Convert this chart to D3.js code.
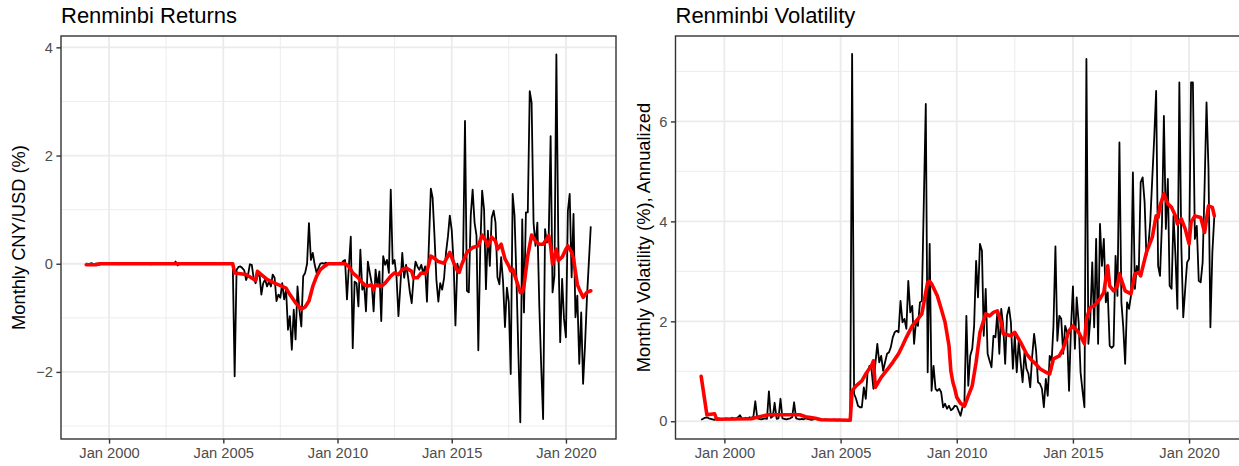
<!DOCTYPE html>
<html>
<head>
<meta charset="utf-8">
<script src="https://cdn.jsdelivr.net/npm/d3@7"></script>
<style>
  body { margin: 0; background: #fff; }
  svg text { font-family: "Liberation Sans", Arial, Helvetica, sans-serif; }
</style>
</head>
<body>
<svg id="chart" width="1239" height="466"></svg>
<script>
// Renminbi: monthly returns and annualized volatility, with red smoothed line

// ---------- data ----------
const firstMonth = "1999-01";

// monthly CNY/USD return (%), Jan 1999 .. Feb 2021
const returns = [
  0.01, -0.01, 0.00, 0.01, -0.01, 0.00, 0.00, -0.02, 0.01, 0.00, 0.00, 0.00, // 1999
  0.00, 0.00, 0.01, 0.00, 0.00, -0.01, 0.00, 0.00, 0.00, 0.01, 0.00, 0.00, // 2000
  0.00, 0.00, 0.00, 0.01, 0.00, 0.00, 0.00, 0.00, 0.00, 0.00, -0.01, 0.00, // 2001
  0.00, 0.00, 0.00, 0.00, 0.00, 0.00, 0.00, 0.00, 0.00, 0.00, 0.00, 0.04, // 2002
  -0.03, 0.00, 0.00, 0.00, 0.00, 0.00, 0.00, 0.00, 0.00, 0.00, 0.00, 0.00, // 2003
  0.00, 0.00, 0.00, 0.00, 0.00, 0.00, 0.00, 0.00, 0.00, 0.00, 0.00, 0.00, // 2004
  0.00, 0.00, 0.00, 0.00, 0.00, 0.00, -2.08, -0.11, -0.06, -0.05, -0.08, -0.12, // 2005
  -0.30, -0.20, -0.01, -0.02, -0.27, -0.36, -0.23, -0.17, -0.57, -0.36, -0.29, -0.42, // 2006
  -0.33, -0.42, -0.20, -0.26, -0.69, -0.57, -0.63, -0.36, -0.66, -0.48, -1.22, -0.97, // 2007
  -1.59, -0.85, -1.40, -0.42, -0.85, -1.16, -0.23, -0.17, 0.00, 0.75, 0.07, 0.20, // 2008
  -0.02, -0.17, -0.08, 0.00, 0.01, 0.00, 0.02, -0.01, 0.00, 0.01, -0.01, 0.00, // 2009
  0.00, 0.02, 0.00, 0.05, 0.07, -0.66, -0.05, 0.50, -1.56, -0.33, -0.36, -0.79, // 2010
  0.26, -0.48, -0.36, -0.88, 0.04, -0.17, -0.36, -0.88, -0.11, -0.42, -0.14, -1.06, // 2011
  0.14, -0.02, 0.07, -0.17, 1.37, 0.00, 0.07, -0.24, -0.97, -0.42, 0.20, -0.26, // 2012
  -0.02, -0.24, -0.51, -0.73, -0.26, 0.04, -0.05, -0.11, -0.02, -0.17, -0.05, -0.70, // 2013
  0.38, 1.39, 1.22, 0.50, -0.30, -0.70, -0.36, -0.48, -0.26, 0.20, 0.50, 0.89, // 2014
  0.62, 0.00, -1.14, 0.00, -0.16, -0.04, 0.08, 2.64, -0.50, -0.53, 0.89, 1.37, // 2015
  0.76, 0.52, -1.60, 0.27, 1.35, 1.00, -0.47, 0.61, -0.04, 0.85, 0.98, 0.76, // 2016
  -0.25, -0.38, 0.12, -0.34, -1.17, -0.44, -0.71, -2.04, 1.29, 0.89, -0.28, -1.64, // 2017
  -2.93, 0.82, -0.90, 0.95, 0.95, 3.19, 2.98, 0.76, 0.33, 0.76, -0.77, -1.88, // 2018
  -2.87, 0.64, 0.39, 0.52, 2.36, -0.53, -0.22, 3.87, 0.39, -1.45, -0.28, -1.02, // 2019
  -1.36, 0.98, 1.29, -0.25, 0.92, -0.99, -0.59, -1.85, -0.90, -2.22, -1.51, -0.65, // 2020
  0.02, 0.69 // 2021
];

// monthly volatility (%), annualized, Jan 1999 .. Feb 2021
const volatility = [
  0.03, 0.05, 0.07, 0.08, 0.06, 0.05, 0.04, 0.03, 0.05, 0.06, 0.05, 0.04, // 1999
  0.05, 0.06, 0.04, 0.05, 0.07, 0.05, 0.06, 0.08, 0.12, 0.06, 0.05, 0.07, // 2000
  0.06, 0.08, 0.07, 0.09, 0.40, 0.06, 0.05, 0.04, 0.05, 0.06, 0.05, 0.60, // 2001
  0.07, 0.10, 0.37, 0.05, 0.06, 0.45, 0.06, 0.05, 0.04, 0.05, 0.06, 0.08, // 2002
  0.38, 0.06, 0.05, 0.04, 0.05, 0.04, 0.06, 0.05, 0.04, 0.03, 0.04, 0.05, // 2003
  0.04, 0.03, 0.04, 0.03, 0.04, 0.03, 0.03, 0.02, 0.03, 0.03, 0.02, 0.03, // 2004
  0.03, 0.02, 0.03, 0.02, 0.02, 0.03, 7.35, 0.55, 0.45, 0.31, 0.28, 0.28, // 2005
  0.68, 0.45, 0.98, 1.11, 1.05, 0.65, 1.15, 1.55, 1.18, 1.31, 1.01, 1.18, // 2006
  1.35, 1.38, 1.48, 1.68, 1.78, 1.81, 1.78, 2.41, 1.98, 2.05, 1.85, 2.81, // 2007
  2.18, 2.31, 1.55, 2.01, 1.91, 2.38, 2.41, 4.38, 6.35, 0.98, 3.55, 0.61, // 2008
  1.11, 0.65, 0.61, 0.65, 0.58, 0.28, 0.35, 0.25, 0.31, 0.22, 0.25, 0.31, // 2009
  0.30, 0.20, 0.11, 0.28, 0.35, 2.11, 0.71, 1.31, 1.45, 1.91, 3.21, 2.48, // 2010
  3.55, 3.41, 1.71, 2.65, 1.35, 1.21, 1.08, 1.71, 1.68, 2.18, 1.35, 2.25, // 2011
  1.91, 1.15, 2.11, 2.28, 1.98, 1.05, 1.71, 0.98, 1.61, 1.18, 0.78, 1.38, // 2012
  1.05, 0.95, 0.68, 1.31, 1.75, 1.41, 0.78, 0.75, 0.65, 0.28, 0.85, 0.51, // 2013
  1.31, 1.21, 1.91, 3.50, 1.61, 2.11, 2.05, 1.35, 1.91, 1.78, 0.61, 1.85, // 2014
  2.70, 1.45, 2.48, 1.98, 0.98, 0.61, 0.28, 7.25, 1.55, 2.05, 3.18, 1.88, // 2015
  3.65, 1.55, 3.95, 3.11, 3.65, 2.38, 2.58, 1.51, 1.47, 1.51, 3.31, 2.51, // 2016
  5.58, 2.38, 1.91, 1.15, 2.38, 2.25, 2.51, 4.98, 2.65, 3.11, 2.98, 4.78, // 2017
  4.88, 4.38, 3.31, 3.51, 4.00, 4.85, 5.65, 6.61, 3.11, 2.91, 3.98, 6.11, // 2018
  3.85, 4.85, 2.71, 2.65, 4.11, 3.31, 2.25, 6.78, 3.51, 2.08, 2.65, 3.18, // 2019
  3.25, 6.78, 6.78, 3.65, 3.91, 2.81, 2.78, 3.18, 4.71, 6.38, 5.05, 1.88, // 2020
  3.38, 4.11 // 2021
];

// red smoothed lines, read at their turning points
const returnsSmooth = [
  ["1999-01", -0.02], ["1999-06", -0.02], ["1999-08", 0.00], ["2005-06", 0.00],
  ["2005-07", -0.17], ["2006-01", -0.20], ["2006-06", -0.31], ["2006-07", -0.14],
  ["2006-09", -0.20], ["2006-12", -0.29], ["2007-04", -0.36], ["2007-08", -0.42],
  ["2007-10", -0.45], ["2007-12", -0.57], ["2008-03", -0.72], ["2008-06", -0.84],
  ["2008-08", -0.80], ["2008-10", -0.69], ["2008-12", -0.42], ["2009-02", -0.23],
  ["2009-04", -0.11], ["2009-06", -0.05], ["2009-08", 0.00], ["2010-05", 0.00],
  ["2010-07", -0.05], ["2010-09", -0.17], ["2010-12", -0.26], ["2011-03", -0.39],
  ["2011-05", -0.41], ["2011-07", -0.39], ["2011-08", -0.48], ["2011-09", -0.39],
  ["2011-12", -0.42], ["2012-02", -0.36], ["2012-05", -0.23], ["2012-07", -0.17],
  ["2012-09", -0.20], ["2012-11", -0.11], ["2013-01", -0.08], ["2013-02", -0.10],
  ["2013-04", -0.14], ["2013-05", -0.26], ["2013-07", -0.26], ["2013-09", -0.17],
  ["2013-11", -0.18], ["2013-12", -0.14], ["2014-02", 0.14], ["2014-04", 0.10],
  ["2014-06", 0.04], ["2014-09", 0.01], ["2014-12", 0.21], ["2015-02", 0.02],
  ["2015-04", -0.13], ["2015-05", -0.16], ["2015-06", -0.04], ["2015-09", 0.21],
  ["2015-10", 0.24], ["2015-12", 0.30], ["2016-03", 0.33], ["2016-05", 0.53],
  ["2016-07", 0.42], ["2016-08", 0.33], ["2016-10", 0.49], ["2016-12", 0.42],
  ["2017-01", 0.27], ["2017-03", 0.36], ["2017-05", 0.09], ["2017-07", -0.04],
  ["2017-08", -0.13], ["2017-09", -0.10], ["2017-11", -0.31], ["2018-01", -0.53],
  ["2018-02", -0.53], ["2018-03", -0.41], ["2018-05", 0.15], ["2018-07", 0.53],
  ["2018-09", 0.42], ["2018-11", 0.36], ["2019-01", 0.36], ["2019-03", 0.46],
  ["2019-04", 0.52], ["2019-05", 0.33], ["2019-06", -0.01], ["2019-08", 0.27],
  ["2019-09", 0.06], ["2019-11", 0.12], ["2020-01", 0.27], ["2020-02", 0.33],
  ["2020-04", 0.21], ["2020-05", 0.09], ["2020-07", -0.38], ["2020-08", -0.47],
  ["2020-10", -0.62], ["2020-12", -0.53], ["2021-02", -0.50]
];

const volatilitySmooth = [
  ["1999-01", 0.90], ["1999-04", 0.13], ["1999-08", 0.15], ["1999-09", 0.04],
  ["2001-03", 0.05], ["2001-07", 0.09], ["2001-12", 0.13], ["2003-04", 0.13],
  ["2003-07", 0.09], ["2003-12", 0.06], ["2004-03", 0.03], ["2005-06", 0.02],
  ["2005-07", 0.61], ["2005-09", 0.71], ["2005-12", 0.81], ["2006-02", 0.95],
  ["2006-05", 1.11], ["2006-06", 1.21], ["2006-07", 0.68], ["2006-10", 0.88],
  ["2007-02", 1.08], ["2007-04", 1.18], ["2007-07", 1.35], ["2007-09", 1.51],
  ["2007-11", 1.68], ["2008-02", 1.91], ["2008-05", 2.05], ["2008-07", 2.15],
  ["2008-09", 2.58], ["2008-10", 2.78], ["2008-11", 2.80], ["2008-12", 2.75],
  ["2009-03", 2.51], ["2009-05", 2.25], ["2009-07", 1.98], ["2009-09", 1.51],
  ["2009-10", 1.00], ["2009-11", 0.78], ["2009-12", 0.65], ["2010-01", 0.48],
  ["2010-03", 0.36], ["2010-05", 0.30], ["2010-07", 0.51], ["2010-09", 0.71],
  ["2010-11", 1.18], ["2011-01", 1.78], ["2011-04", 2.15], ["2011-06", 2.11],
  ["2011-08", 2.18], ["2011-10", 2.21], ["2011-12", 1.98], ["2012-01", 1.75],
  ["2012-05", 1.71], ["2012-07", 1.78], ["2012-10", 1.58], ["2013-01", 1.35],
  ["2013-04", 1.21], ["2013-05", 1.18], ["2013-08", 1.05], ["2013-11", 0.98],
  ["2014-01", 0.95], ["2014-03", 1.25], ["2014-06", 1.31], ["2014-08", 1.45],
  ["2014-11", 1.81], ["2015-01", 1.91], ["2015-04", 1.78], ["2015-07", 1.55],
  ["2015-08", 2.05], ["2015-10", 2.28], ["2015-12", 2.31], ["2016-03", 2.45],
  ["2016-05", 2.58], ["2016-07", 3.11], ["2016-08", 2.71], ["2016-10", 2.61],
  ["2016-12", 2.71], ["2017-01", 2.95], ["2017-04", 2.61], ["2017-07", 2.55],
  ["2017-09", 2.95], ["2017-11", 2.98], ["2017-12", 2.91], ["2018-03", 3.38],
  ["2018-06", 3.68], ["2018-08", 4.11], ["2018-09", 4.08], ["2018-10", 4.31],
  ["2018-12", 4.55], ["2019-02", 4.35], ["2019-04", 4.28], ["2019-06", 4.11],
  ["2019-07", 3.95], ["2019-09", 4.05], ["2019-11", 3.85], ["2020-01", 3.55],
  ["2020-02", 3.98], ["2020-04", 4.11], ["2020-07", 4.08], ["2020-09", 3.78],
  ["2020-11", 4.31], ["2021-01", 4.28], ["2021-02", 4.11]
];

const xTickMonths = ["2000-01", "2005-01", "2010-01", "2015-01", "2020-01"];
const xTickLabels = ["Jan 2000", "Jan 2005", "Jan 2010", "Jan 2015", "Jan 2020"];
const xMinorMonths = ["2002-07", "2007-07", "2012-07", "2017-07"];

const returnsTicks = [-2, 0, 2, 4];
const returnsMinor = [-3, -1, 1, 3];
const volatilityTicks = [0, 2, 4, 6];
const volatilityMinor = [1, 3, 5, 7];

// ---------- setup ----------
const parseMonth = d3.utcParse("%Y-%m");
const start = parseMonth(firstMonth);
const monthly = (vals) => vals.map((v, i) => ({ date: d3.utcMonth.offset(start, i), value: v }));
const knots = (pairs) => pairs.map(([m, v]) => ({ date: parseMonth(m), value: v }));

const retData = monthly(returns);
const volData = monthly(volatility);

// ggplot-like 5% expansion of the date range
const [d0, d1] = d3.extent(retData, (d) => d.date);
const pad = (d1 - d0) * 0.05;
const xDomain = [new Date(+d0 - pad), new Date(+d1 + pad)];

const svg = d3.select("#chart");
const TEXT = "#4d4d4d";
const BORDER = "#333333";
const GRID = "#ebebeb";

const panels = [
  {
    title: "Renminbi Returns",
    yLabel: "Monthly CNY/USD (%)",
    left: 61, right: 616, top: 36, bottom: 439, yLabelX: 25,
    yDomain: [-3.24, 4.21], ticks: returnsTicks, minor: returnsMinor,
    raw: retData, smooth: knots(returnsSmooth),
  },
  {
    title: "Renminbi Volatility",
    yLabel: "Monthly Volatility (%), Annualized",
    left: 675.5, right: 1240, top: 36, bottom: 439, yLabelX: 650,
    yDomain: [-0.355, 7.71], ticks: volatilityTicks, minor: volatilityMinor,
    raw: volData, smooth: knots(volatilitySmooth),
  },
];

for (const p of panels) {
  const x = d3.scaleUtc().domain(xDomain).range([p.left, p.right]);
  const y = d3.scaleLinear().domain(p.yDomain).range([p.bottom, p.top]);
  const g = svg.append("g");

  // grid
  g.selectAll(".ymin").data(p.minor).join("line")
    .attr("x1", p.left).attr("x2", p.right)
    .attr("y1", (d) => y(d)).attr("y2", (d) => y(d))
    .attr("stroke", GRID).attr("stroke-width", 0.9);
  g.selectAll(".xmin").data(xMinorMonths.map(parseMonth)).join("line")
    .attr("x1", (d) => x(d)).attr("x2", (d) => x(d))
    .attr("y1", p.top).attr("y2", p.bottom)
    .attr("stroke", GRID).attr("stroke-width", 0.9);
  g.selectAll(".ymaj").data(p.ticks).join("line")
    .attr("x1", p.left).attr("x2", p.right)
    .attr("y1", (d) => y(d)).attr("y2", (d) => y(d))
    .attr("stroke", GRID).attr("stroke-width", 1.8);
  g.selectAll(".xmaj").data(xTickMonths.map(parseMonth)).join("line")
    .attr("x1", (d) => x(d)).attr("x2", (d) => x(d))
    .attr("y1", p.top).attr("y2", p.bottom)
    .attr("stroke", GRID).attr("stroke-width", 1.8);

  // series
  const line = d3.line().x((d) => x(d.date)).y((d) => y(d.value));
  g.append("path").datum(p.raw)
    .attr("d", line).attr("fill", "none")
    .attr("stroke", "#000").attr("stroke-width", 1.8).attr("stroke-linejoin", "round");
  g.append("path").datum(p.smooth)
    .attr("d", line).attr("fill", "none")
    .attr("stroke", "#ff0000").attr("stroke-width", 3.6)
    .attr("stroke-linejoin", "round").attr("stroke-linecap", "round");

  // border
  g.append("rect")
    .attr("x", p.left).attr("y", p.top)
    .attr("width", p.right - p.left).attr("height", p.bottom - p.top)
    .attr("fill", "none").attr("stroke", BORDER).attr("stroke-width", 1.4);

  // axes
  const xAxis = d3.axisBottom(x)
    .tickValues(xTickMonths.map(parseMonth))
    .tickFormat((d, i) => xTickLabels[i])
    .tickSize(4.6).tickPadding(3.5);
  const gx = g.append("g").attr("transform", `translate(0,${p.bottom})`).call(xAxis);
  const yAxis = d3.axisLeft(y)
    .tickValues(p.ticks)
    .tickFormat((d) => (d < 0 ? "\u2212" + Math.abs(d) : d))
    .tickSize(4.6).tickPadding(3.5);
  const gy = g.append("g").attr("transform", `translate(${p.left},0)`).call(yAxis);
  for (const a of [gx, gy]) {
    a.select(".domain").remove();
    a.selectAll(".tick line").attr("stroke", BORDER).attr("stroke-width", 1.4);
    a.selectAll(".tick text").attr("fill", TEXT).style("font-size", "14.7px");
  }

  // titles
  svg.append("text")
    .attr("x", p.left).attr("y", 23)
    .style("font-size", "22px").attr("fill", "#000")
    .text(p.title);
  svg.append("text")
    .attr("transform", `translate(${p.yLabelX},${(p.top + p.bottom) / 2}) rotate(-90)`)
    .attr("text-anchor", "middle")
    .style("font-size", "18.3px").attr("fill", "#000")
    .text(p.yLabel);
}
</script>
</body>
</html>
